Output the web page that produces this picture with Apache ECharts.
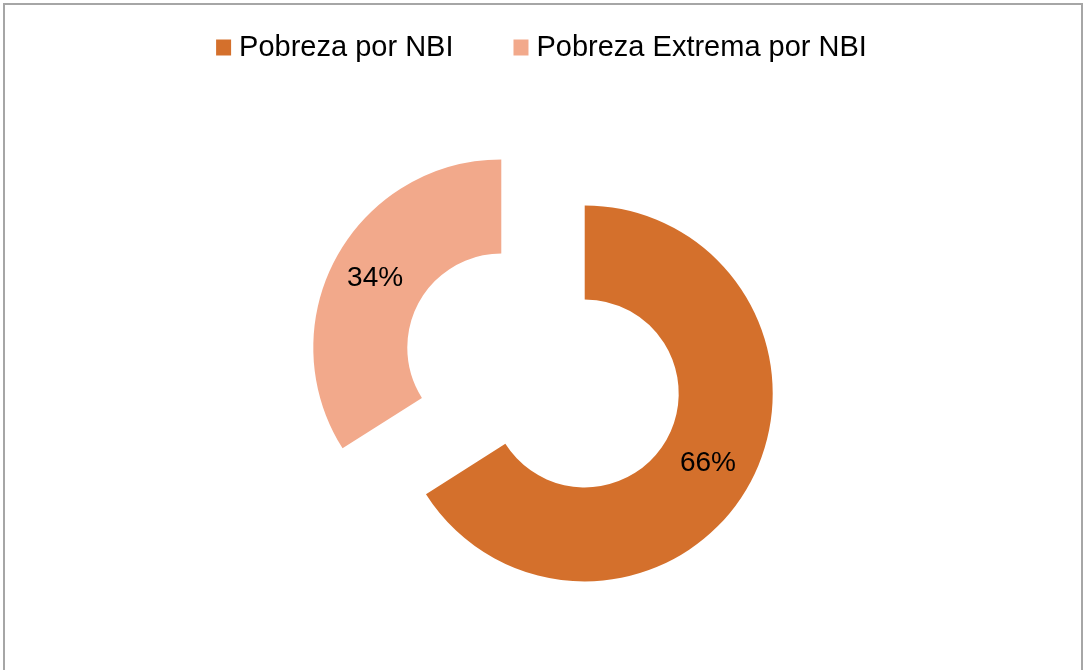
<!DOCTYPE html>
<html>
<head>
<meta charset="utf-8">
<script src="https://cdn.jsdelivr.net/npm/echarts@6/dist/echarts.min.js"></script>
<style>
  html, body { margin: 0; padding: 0; background: #fff; }
  #chart { width: 1083px; height: 670px; }
  .frame {
    position: absolute; left: 3px; top: 3px; width: 1076px; height: 700px;
    border: 2px solid #a6a6a6; pointer-events: none;
  }
</style>
</head>
<body>
<div id="chart"></div>
<div class="frame"></div>
<script>
// datos
const categories = ['Pobreza por NBI', 'Pobreza Extrema por NBI'];
const values = [66, 34];
const colors = ['#D4702C', '#F2A98B'];

const chart = echarts.init(document.getElementById('chart'));

const option = {
  backgroundColor: '#fff',
  color: colors,
  legend: {
    top: 28,
    left: 'center',
    icon: 'rect',
    itemWidth: 15,
    itemHeight: 16,
    itemGap: 60,
    selectedMode: false,
    textStyle: {
      fontFamily: 'Liberation Sans, Arial, sans-serif',
      fontSize: 29,
      color: '#000',
      padding: [0, 0, 0, 3]
    },
    data: categories
  },
  series: [{
    type: 'pie',
    center: [543, 370.5],
    radius: [94, 188],
    startAngle: 90,
    clockwise: true,
    selectedMode: 'multiple',
    selectedOffset: 47.6,
    animation: false,
    emphasis: { scale: false },
    label: {
      show: true,
      position: 'inside',
      formatter: '{d}%',
      fontFamily: 'Liberation Sans, Arial, sans-serif',
      fontSize: 28,
      color: '#000'
    },
    labelLine: { show: false },
    data: [
      { name: categories[0], value: values[0], selected: true, label: { padding: [0, 6, 4, 0] } },
      { name: categories[1], value: values[1], selected: true, label: { verticalAlign: 'top', lineHeight: 14 } }
    ]
  }]
};

chart.setOption(option);
</script>
</body>
</html>
